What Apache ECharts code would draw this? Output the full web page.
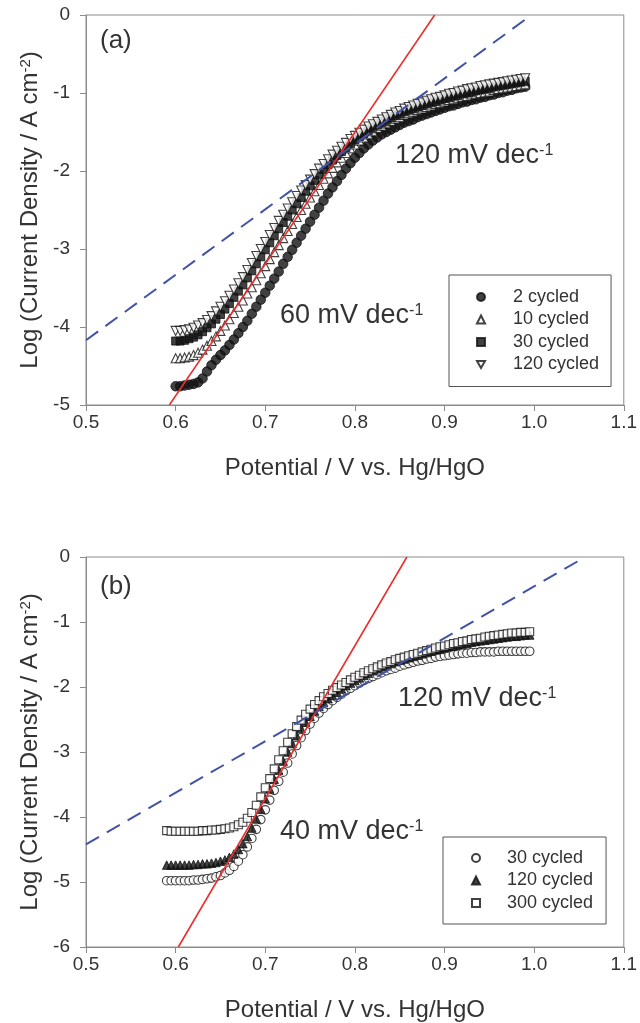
<!DOCTYPE html>
<html>
<head>
<meta charset="utf-8">
<title>Tafel plots</title>
<script src="https://cdn.jsdelivr.net/npm/echarts@6/dist/echarts.min.js"></script>
<style>
  html, body { margin: 0; padding: 0; background: #fff; }
  #chart { width: 640px; height: 1023px; }
</style>
</head>
<body>
<div id="chart"></div>
<script>
// Potential (V vs. Hg/HgO) for the panel (a) and panel (b) sweeps
const potA = [
  0.600,0.605,0.610,0.615,0.620,0.625,0.630,0.635,0.640,0.645,
  0.650,0.655,0.660,0.665,0.670,0.675,0.680,0.685,0.690,0.695,
  0.700,0.705,0.710,0.715,0.720,0.725,0.730,0.735,0.740,0.745,
  0.750,0.755,0.760,0.765,0.770,0.775,0.780,0.785,0.790,0.795,
  0.800,0.805,0.810,0.815,0.820,0.825,0.830,0.835,0.840,0.845,
  0.850,0.855,0.860,0.865,0.870,0.875,0.880,0.885,0.890,0.895,
  0.900,0.905,0.910,0.915,0.920,0.925,0.930,0.935,0.940,0.945,
  0.950,0.955,0.960,0.965,0.970,0.975,0.980,0.985,0.990
];
const potB = [
  0.590,0.595,
  0.600,0.605,0.610,0.615,0.620,0.625,0.630,0.635,0.640,0.645,
  0.650,0.655,0.660,0.665,0.670,0.675,0.680,0.685,0.690,0.695,
  0.700,0.705,0.710,0.715,0.720,0.725,0.730,0.735,0.740,0.745,
  0.750,0.755,0.760,0.765,0.770,0.775,0.780,0.785,0.790,0.795,
  0.800,0.805,0.810,0.815,0.820,0.825,0.830,0.835,0.840,0.845,
  0.850,0.855,0.860,0.865,0.870,0.875,0.880,0.885,0.890,0.895,
  0.900,0.905,0.910,0.915,0.920,0.925,0.930,0.935,0.940,0.945,
  0.950,0.955,0.960,0.965,0.970,0.975,0.980,0.985,0.990,0.995
];

// log current density, panel (a)
const logA_2 = [
  -4.76,-4.76,-4.75,-4.74,-4.73,-4.71,-4.66,-4.57,-4.49,-4.42,
  -4.36,-4.30,-4.23,-4.16,-4.08,-4.00,-3.92,-3.83,-3.74,-3.65,
  -3.56,-3.47,-3.38,-3.29,-3.19,-3.10,-3.01,-2.92,-2.83,-2.74,
  -2.65,-2.56,-2.47,-2.38,-2.29,-2.21,-2.13,-2.05,-1.97,-1.90,
  -1.83,-1.77,-1.71,-1.66,-1.61,-1.57,-1.53,-1.50,-1.47,-1.44,
  -1.41,-1.38,-1.36,-1.34,-1.31,-1.29,-1.27,-1.25,-1.23,-1.21,
  -1.19,-1.17,-1.16,-1.14,-1.12,-1.11,-1.09,-1.08,-1.06,-1.05,
  -1.03,-1.02,-1.00,-0.99,-0.97,-0.96,-0.94,-0.93,-0.92
];
const logA_10 = [
  -4.40,-4.40,-4.39,-4.38,-4.36,-4.33,-4.29,-4.24,-4.18,-4.12,
  -4.05,-3.98,-3.90,-3.82,-3.74,-3.66,-3.57,-3.49,-3.40,-3.31,
  -3.22,-3.13,-3.04,-2.95,-2.86,-2.77,-2.68,-2.59,-2.50,-2.42,
  -2.34,-2.26,-2.18,-2.10,-2.03,-1.96,-1.89,-1.83,-1.77,-1.71,
  -1.66,-1.61,-1.57,-1.53,-1.49,-1.45,-1.42,-1.39,-1.36,-1.33,
  -1.31,-1.28,-1.26,-1.24,-1.22,-1.20,-1.18,-1.16,-1.14,-1.13,
  -1.11,-1.09,-1.08,-1.06,-1.05,-1.04,-1.02,-1.01,-1.00,-0.99,
  -0.98,-0.96,-0.95,-0.94,-0.93,-0.92,-0.91,-0.90,-0.89
];
const logA_30 = [
  -4.18,-4.18,-4.17,-4.15,-4.13,-4.10,-4.06,-4.01,-3.96,-3.90,
  -3.84,-3.77,-3.70,-3.62,-3.54,-3.46,-3.37,-3.28,-3.19,-3.10,
  -3.01,-2.92,-2.83,-2.74,-2.66,-2.58,-2.50,-2.42,-2.34,-2.26,
  -2.19,-2.12,-2.05,-1.98,-1.92,-1.86,-1.80,-1.75,-1.70,-1.65,
  -1.60,-1.56,-1.52,-1.48,-1.44,-1.41,-1.38,-1.35,-1.32,-1.29,
  -1.27,-1.24,-1.22,-1.20,-1.18,-1.16,-1.14,-1.12,-1.11,-1.09,
  -1.07,-1.06,-1.04,-1.03,-1.01,-1.00,-0.99,-0.97,-0.96,-0.95,
  -0.94,-0.92,-0.91,-0.90,-0.89,-0.88,-0.87,-0.86,-0.85
];
const logA_120 = [
  -4.05,-4.05,-4.04,-4.03,-4.01,-3.98,-3.95,-3.91,-3.86,-3.80,
  -3.74,-3.67,-3.60,-3.52,-3.44,-3.36,-3.27,-3.18,-3.09,-3.00,
  -2.91,-2.82,-2.73,-2.64,-2.56,-2.48,-2.40,-2.32,-2.25,-2.18,
  -2.11,-2.04,-1.97,-1.91,-1.85,-1.79,-1.74,-1.69,-1.64,-1.59,
  -1.55,-1.51,-1.47,-1.43,-1.40,-1.37,-1.34,-1.31,-1.28,-1.25,
  -1.23,-1.20,-1.18,-1.16,-1.14,-1.12,-1.10,-1.08,-1.06,-1.05,
  -1.03,-1.01,-1.00,-0.98,-0.97,-0.95,-0.94,-0.93,-0.91,-0.90,
  -0.89,-0.88,-0.87,-0.86,-0.85,-0.84,-0.83,-0.82,-0.81
];

// log current density, panel (b)
const logB_30 = [
  -4.98,-4.98,
  -4.98,-4.98,-4.98,-4.98,-4.97,-4.97,-4.96,-4.95,-4.94,-4.92,
  -4.90,-4.86,-4.82,-4.76,-4.68,-4.58,-4.46,-4.33,-4.19,-4.04,
  -3.89,-3.74,-3.59,-3.45,-3.31,-3.17,-3.03,-2.90,-2.78,-2.67,
  -2.57,-2.48,-2.40,-2.33,-2.27,-2.21,-2.16,-2.11,-2.06,-2.02,
  -1.98,-1.94,-1.90,-1.87,-1.84,-1.81,-1.78,-1.75,-1.73,-1.71,
  -1.68,-1.66,-1.64,-1.62,-1.60,-1.59,-1.57,-1.56,-1.54,-1.53,
  -1.52,-1.51,-1.50,-1.49,-1.48,-1.48,-1.47,-1.47,-1.46,-1.46,
  -1.46,-1.46,-1.45,-1.45,-1.45,-1.45,-1.45,-1.45,-1.45,-1.45
];
const logB_120 = [
  -4.74,-4.74,
  -4.74,-4.74,-4.74,-4.74,-4.73,-4.73,-4.72,-4.72,-4.71,-4.70,
  -4.68,-4.66,-4.62,-4.57,-4.50,-4.41,-4.30,-4.17,-4.03,-3.88,
  -3.72,-3.57,-3.42,-3.28,-3.14,-3.00,-2.87,-2.75,-2.64,-2.54,
  -2.45,-2.37,-2.30,-2.24,-2.18,-2.13,-2.08,-2.03,-1.98,-1.94,
  -1.90,-1.86,-1.82,-1.79,-1.75,-1.72,-1.69,-1.66,-1.64,-1.61,
  -1.59,-1.57,-1.55,-1.53,-1.51,-1.49,-1.47,-1.45,-1.43,-1.42,
  -1.40,-1.38,-1.37,-1.35,-1.34,-1.33,-1.31,-1.30,-1.29,-1.28,
  -1.27,-1.26,-1.25,-1.24,-1.23,-1.22,-1.22,-1.21,-1.20,-1.20
];
const logB_300 = [
  -4.21,-4.22,
  -4.22,-4.22,-4.22,-4.22,-4.22,-4.22,-4.21,-4.21,-4.20,-4.20,
  -4.19,-4.18,-4.17,-4.15,-4.12,-4.08,-4.02,-3.93,-3.82,-3.69,
  -3.55,-3.41,-3.26,-3.12,-2.98,-2.85,-2.72,-2.61,-2.51,-2.42,
  -2.34,-2.27,-2.21,-2.15,-2.10,-2.05,-2.01,-1.97,-1.93,-1.89,
  -1.85,-1.82,-1.78,-1.75,-1.72,-1.69,-1.66,-1.63,-1.61,-1.58,
  -1.56,-1.54,-1.52,-1.50,-1.48,-1.46,-1.44,-1.42,-1.40,-1.38,
  -1.37,-1.35,-1.33,-1.32,-1.30,-1.29,-1.27,-1.26,-1.25,-1.23,
  -1.22,-1.21,-1.20,-1.19,-1.18,-1.17,-1.17,-1.16,-1.16,-1.15
];

// Tafel fit lines: end points [potential, log j]
const fitA_low  = [[0.593, -5], [0.889, 0]];     // 60 mV dec-1
const fitA_high = [[0.500, -4.17], [0.997, 0]];  // 120 mV dec-1
const fitB_low  = [[0.603, -6], [0.858, 0]];     // 40 mV dec-1
const fitB_high = [[0.500, -4.42], [1.057, 0]];  // 120 mV dec-1

const legendA = ['2 cycled', '10 cycled', '30 cycled', '120 cycled'];
const legendB = ['30 cycled', '120 cycled', '300 cycled'];
const xTicks = ['0.5', '0.6', '0.7', '0.8', '0.9', '1.0', '1.1'];

const FONT = '"Liberation Sans", Arial, Helvetica, sans-serif';
const AXIS = '#8c8c8c';
const TEXT = '#333333';
const RED = '#e8302f';
const BLUE = '#4253a6';
const INK = '#111111';
const TAG_B = ' (b)';   // panel (b) series carry this suffix so both legends stay separate

const pair = (xs, ys) => xs.map((x, i) => [x, ys[i]]);
const downTri = 'path://M0,0L10,0L5,8.66Z';

const filled = { color: INK, borderColor: INK, borderWidth: 1 };
const open = { color: '#ffffff', borderColor: INK, borderWidth: 1.1 };

function scatter(name, gi, data, symbol, size, style) {
  return {
    name, type: 'scatter', xAxisIndex: gi, yAxisIndex: gi, data,
    symbol, symbolSize: size, itemStyle: style, z: 2,
    emphasis: { disabled: true }, silent: true
  };
}
function fit(gi, data, color, dashed) {
  return {
    type: 'line', xAxisIndex: gi, yAxisIndex: gi, data,
    symbol: 'none', showSymbol: false, silent: true, z: 5,
    lineStyle: { color, width: dashed ? 2 : 1.6, type: dashed ? [15, 9] : 'solid' }
  };
}
function xAxisFor(gi) {
  return {
    type: 'value', gridIndex: gi, min: 0.5, max: 1.1, interval: 0.1,
    axisLine: { show: true, onZero: false, lineStyle: { color: AXIS, width: 1 } },
    axisTick: { show: true, length: 6, lineStyle: { color: AXIS } },
    axisLabel: { fontSize: 19, color: TEXT, fontFamily: FONT, margin: 8,
      formatter: v => xTicks[Math.round((v - 0.5) * 10)] },
    splitLine: { show: false },
    name: 'Potential / V vs. Hg/HgO', nameLocation: 'middle', nameGap: 51,
    nameTextStyle: { fontSize: 24, color: TEXT, fontFamily: FONT }
  };
}
function yAxisFor(gi, min) {
  return {
    type: 'value', gridIndex: gi, min, max: 0, interval: 1,
    axisLine: { show: true, onZero: false, lineStyle: { color: AXIS, width: 1 } },
    axisTick: { show: true, length: 6, lineStyle: { color: AXIS } },
    axisLabel: { fontSize: 19, color: TEXT, fontFamily: FONT, margin: 16, formatter: v => String(v) },
    splitLine: { show: false },
    name: 'Log (Current Density / A cm{s|-2})', nameLocation: 'middle', nameGap: 43,
    nameTextStyle: { fontSize: 24, color: TEXT, fontFamily: FONT,
      rich: { s: { fontSize: 15, fontFamily: FONT, color: TEXT, lineHeight: 12, verticalAlign: 'top' } } }
  };
}
// Small square icon box; a blank rich token opens the gap between icon and text.
function legendFor(names, left, top, padding, gap) {
  return {
    orient: 'vertical', left, top, data: names, selectedMode: false,
    itemWidth: 8, itemHeight: 8, itemGap: 0.5, padding,
    borderColor: '#555555', borderWidth: 1, backgroundColor: '#ffffff',
    textStyle: { fontSize: 18, color: TEXT, fontFamily: FONT, lineHeight: 22,
      rich: { g: { width: gap, fontSize: 18, lineHeight: 22 }, t: { fontSize: 18, color: TEXT, fontFamily: FONT, lineHeight: 22 } } },
    formatter: n => '{g|}{t|' + n.replace(TAG_B, '') + '}'
  };
}
function label(text, x, y, size) {
  return {
    type: 'text', x, y, silent: true, z: 10,
    style: {
      text, fill: TEXT, fontSize: size, fontFamily: FONT, lineHeight: size,
      align: 'left', verticalAlign: 'middle',
      rich: { s: { fontSize: 16, fontFamily: FONT, fill: TEXT, lineHeight: 12, verticalAlign: 'top' } }
    }
  };
}

const chart = echarts.init(document.getElementById('chart'), null, { renderer: 'canvas' });
chart.setOption({
  animation: false,
  backgroundColor: '#ffffff',
  grid: [
    { left: 86, top: 15, width: 542, height: 390, show: true, borderColor: AXIS, borderWidth: 1 },
    { left: 86, top: 557, width: 542, height: 392, show: true, borderColor: AXIS, borderWidth: 1 }
  ],
  xAxis: [xAxisFor(0), xAxisFor(1)],
  yAxis: [yAxisFor(0, -5), yAxisFor(1, -6)],
  legend: [
    legendFor(legendA, 449, 275, [11, 12, 11, 27], 23),
    legendFor(legendB.map(n => n + TAG_B), 443, 837, [10, 13, 10, 28], 22)
  ],
  series: [
    scatter('2 cycled', 0, pair(potA, logA_2), 'circle', 9.5, filled),
    scatter('10 cycled', 0, pair(potA, logA_10), 'triangle', 9, open),
    scatter('30 cycled', 0, pair(potA, logA_30), 'rect', 8, filled),
    scatter('120 cycled', 0, pair(potA, logA_120), downTri, 9, open),
    fit(0, fitA_low, RED, false),
    fit(0, fitA_high, BLUE, true),
    scatter('30 cycled' + TAG_B, 1, pair(potB, logB_30), 'circle', 8.5, open),
    scatter('120 cycled' + TAG_B, 1, pair(potB, logB_120), 'triangle', 8.5, filled),
    scatter('300 cycled' + TAG_B, 1, pair(potB, logB_300), 'rect', 8, open),
    fit(1, fitB_low, RED, false),
    fit(1, fitB_high, BLUE, true)
  ],
  graphic: [
    label('(a)', 100, 41, 26),
    label('120 mV dec{s|-1}', 395, 156, 27),
    label('60 mV dec{s|-1}', 280, 316, 27),
    label('(b)', 100, 587, 26),
    label('120 mV dec{s|-1}', 398, 699, 27),
    label('40 mV dec{s|-1}', 280, 832, 27)
  ]
});
</script>
</body>
</html>
